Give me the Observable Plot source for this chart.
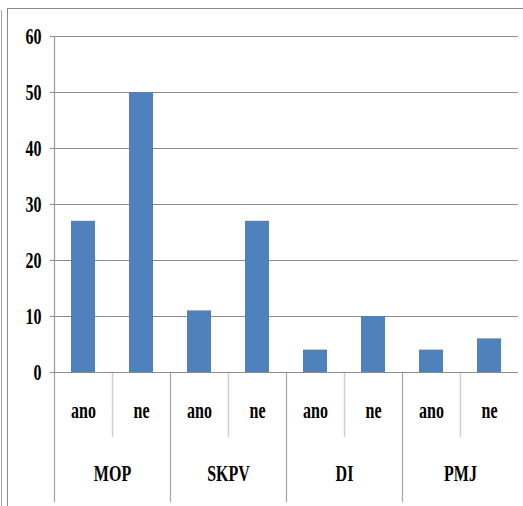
<!DOCTYPE html>
<html>
<head>
<meta charset="utf-8">
<script src="https://cdn.jsdelivr.net/npm/d3@7"></script>
<script src="https://cdn.jsdelivr.net/npm/@observablehq/plot@0.6"></script>
<style>
  html, body { margin: 0; padding: 0; background: #fff; }
  #wrap { position: relative; width: 523px; height: 506px; overflow: hidden; }
  #chart svg { display: block; }
  #chart svg text { font-family: "Liberation Serif", "DejaVu Serif", serif !important; font-weight: bold; font-size: 16px; }
  .frame-outer { position: absolute; left: 1px; top: 10px; width: 0; height: 500px; border-left: 1.5px solid #a0a0a0; }
  .frame-inner { position: absolute; left: 7px; top: 8px; width: 520px; height: 510px; border-left: 1.5px solid #8a8a8a; border-top: 1.5px solid #8a8a8a; }
</style>
</head>
<body>
<div id="wrap">
  <div id="chart"></div>
  <div class="frame-outer"></div>
  <div class="frame-inner"></div>
</div>
<script>
const groups = ["MOP", "SKPV", "DI", "PMJ"];
const answers = ["ano", "ne"];
const counts = [27, 50, 11, 27, 4, 10, 4, 6];
const yTicks = [0, 10, 20, 30, 40, 50, 60];

const data = groups.flatMap((g, gi) => answers.map((a, ai) => ({
  group: g, answer: a, slot: gi * answers.length + ai, value: counts[gi * answers.length + ai]
})));
const groupBounds = groups.map((g, i) => i * answers.length);
const subBounds = groups.map((g, i) => i * answers.length + 1);

const chart = Plot.plot({
  width: 523,
  height: 506,
  marginLeft: 54,
  marginRight: 5,
  marginTop: 36,
  marginBottom: 134,
  x: { domain: [0, groups.length * answers.length], axis: null },
  y: { domain: [0, 60], axis: null },
  style: { fontFamily: "Liberation Serif, serif", fontWeight: "bold", fontSize: "16px", background: "transparent", color: "#000" },
  marks: [
    Plot.ruleY(yTicks, { stroke: "#8c8c8c", strokeWidth: 1.2, insetLeft: -4 }),
    Plot.ruleX([0], { stroke: "#9a9a9a", strokeWidth: 1.2 }),
    Plot.ruleX(groupBounds, { y1: () => 0, y2: () => 0, insetBottom: -130, stroke: "#a6a6a6", strokeWidth: 1.2 }),
    Plot.ruleX(subBounds, { y1: () => 0, y2: () => 0, insetBottom: -65, stroke: "#cfcfcf", strokeWidth: 1.5 }),
    Plot.rectY(data, { x1: d => d.slot, x2: d => d.slot + 1, y: "value", fill: "#4F81BD", insetLeft: 17, insetRight: 17 }),
    Plot.ruleY([0], { stroke: "#8c8c8c", strokeWidth: 1.2, insetLeft: -4 }),
    Plot.text(yTicks, { x: () => 0, y: d => d, text: d => String(d), textAnchor: "end", dx: -13, fill: "#000" }),
    Plot.text(data, { x: d => d.slot + 0.5, y: () => 0, text: "answer", dy: 38, fill: "#000" }),
    Plot.text(groups, { x: (d, i) => i * answers.length + answers.length / 2, y: () => 0, text: d => d, dy: 101, fill: "#000" })
  ]
});
chart.querySelectorAll("text").forEach(t => {
  const tr = t.getAttribute("transform");
  if (tr) t.setAttribute("transform", tr + " scale(1,1.5)");
});
document.getElementById("chart").appendChild(chart);
</script>
</body>
</html>
